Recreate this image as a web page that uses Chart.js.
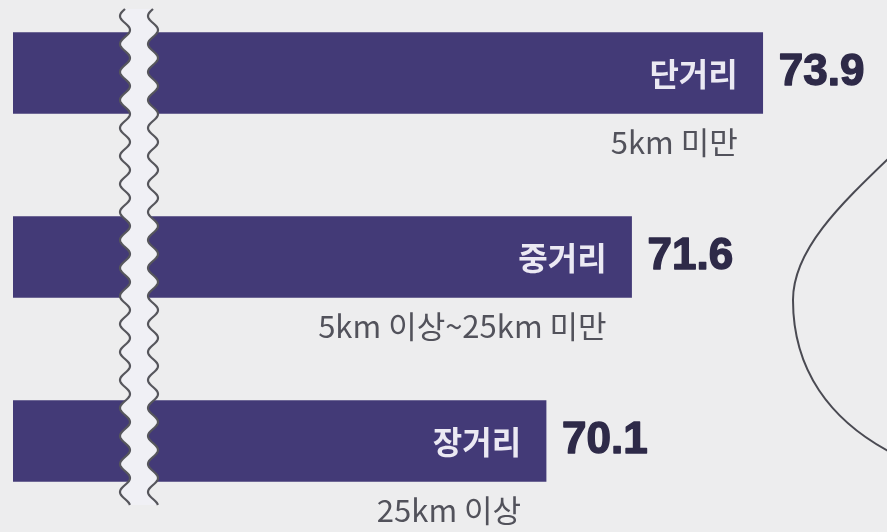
<!DOCTYPE html>
<html><head><meta charset="utf-8">
<script src="https://cdn.jsdelivr.net/npm/chart.js@4/dist/chart.umd.min.js"></script>
<style>html,body{margin:0;padding:0;background:#ededee;}#wrap{width:887px;height:532px;}</style>
</head><body><div id="wrap"><canvas id="c" width="887" height="532"></canvas></div>
<script>
const categories = ['단거리', '중거리', '장거리'];
const subLabels = ['5km 미만', '5km 이상~25km 미만', '25km 이상'];
const values = [73.9, 71.6, 70.1];
const valueLabels = ['73.9', '71.6', '70.1'];
const axisMin = 60.75;
const axisMax = 76.08;

const BG = '#ededee';
const BAR = '#433a77';

const decor = {
  id: 'decor',
  beforeDraw(chart) {
    const ctx = chart.ctx;
    ctx.save();
    ctx.fillStyle = BG;
    ctx.fillRect(0, 0, chart.width, chart.height);
    ctx.restore();
  },
  afterDatasetsDraw(chart) {
    const ctx = chart.ctx;
    const meta = chart.getDatasetMeta(0);
    ctx.save();
    // axis break band
    const y0 = 9, y1 = 505, P = 28, A = 5, cx = 125, gap = 28;
    const lx = y => cx - A * Math.sin(2 * Math.PI * (y - y0) / P);
    ctx.beginPath();
    for (let y = y0; y <= y1; y++) { const x = lx(y); y === y0 ? ctx.moveTo(x, y) : ctx.lineTo(x, y); }
    for (let y = y1; y >= y0; y--) ctx.lineTo(lx(y) + gap, y);
    ctx.closePath();
    ctx.fillStyle = '#f0f0f5';
    ctx.fill();
    ctx.strokeStyle = '#56565c';
    ctx.lineWidth = 2.2;
    [0, gap].forEach(off => {
      ctx.beginPath();
      for (let y = y0; y <= y1; y++) { const x = lx(y) + off; y === y0 ? ctx.moveTo(x, y) : ctx.lineTo(x, y); }
      ctx.stroke();
    });
    // drop outline on the right
    ctx.beginPath();
    ctx.moveTo(890, 157);
    ctx.bezierCurveTo(840, 205, 793, 250, 793, 300);
    ctx.bezierCurveTo(793, 370, 830, 420, 890, 452);
    ctx.strokeStyle = '#4a4a52';
    ctx.lineWidth = 2;
    ctx.stroke();
    // labels
    meta.data.forEach((el, i) => {
      const half = el.height / 2;
      ctx.textBaseline = 'middle';
      ctx.textAlign = 'right';
      ctx.fillStyle = '#ebe9f3';
      ctx.font = '600 32px "Noto Sans CJK KR"';
      ctx.fillText(categories[i], el.x - 25, el.y + 1);
      ctx.fillStyle = '#52525b';
      ctx.font = '400 31px "Noto Sans CJK KR"';
      ctx.fillText(subLabels[i], el.x - 25, el.y + half + 29);
      ctx.textAlign = 'left';
      ctx.fillStyle = '#2e2a48';
      ctx.strokeStyle = '#2e2a48';
      ctx.lineWidth = 1.4;
      ctx.lineJoin = 'round';
      ctx.font = 'bold 44px "Liberation Sans"';
      ctx.fillText(valueLabels[i], el.x + 16, el.y);
      ctx.strokeText(valueLabels[i], el.x + 16, el.y);
    });
    ctx.restore();
  }
};

new Chart(document.getElementById('c'), {
  type: 'bar',
  data: {
    labels: categories,
    datasets: [{
      data: values,
      base: axisMin,
      backgroundColor: BAR,
      borderWidth: 0,
      barThickness: 81,
      clip: { left: 0, top: 60, right: 0, bottom: 60 }
    }]
  },
  options: {
    indexAxis: 'y',
    responsive: false,
    animation: false,
    layout: { padding: { left: 13, right: 0, top: 73, bottom: 91 } },
    plugins: { legend: { display: false }, tooltip: { enabled: false } },
    scales: {
      x: { display: false, min: axisMin, max: axisMax },
      y: { display: false, offset: false }
    }
  },
  plugins: [decor]
});
</script>
</body></html>
